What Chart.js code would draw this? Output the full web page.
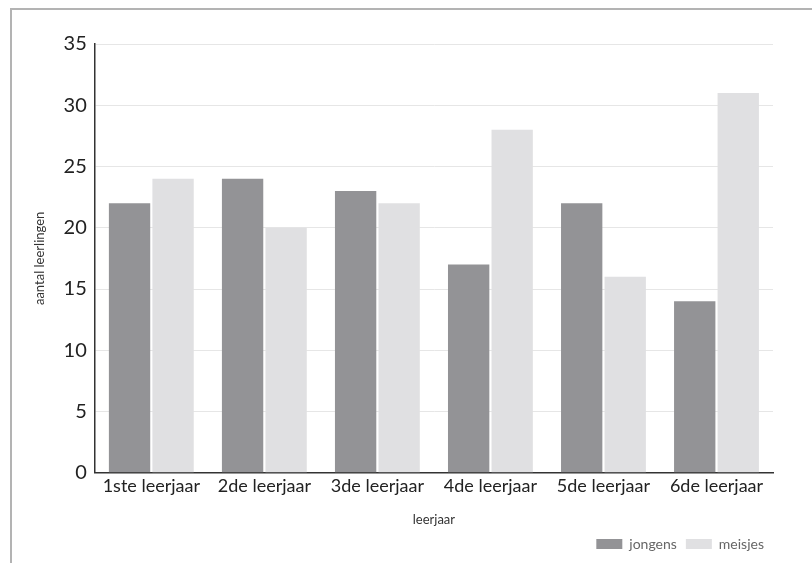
<!DOCTYPE html>
<html>
<head>
<meta charset="utf-8">
<script src="https://cdn.jsdelivr.net/npm/chart.js@4"></script>
<style>
  html, body { margin: 0; padding: 0; background: #fff; }
  #wrap { position: relative; width: 812px; height: 563px; }
  #frame { position: absolute; left: 10px; top: 8px; right: 0; bottom: 0;
           border-top: 2px solid #b3b3b3; border-left: 2px solid #b3b3b3; }
  canvas { position: absolute; left: 0; top: 0; }
</style>
</head>
<body>
<div id="wrap">
  <div id="frame"></div>
  <canvas id="chart" width="812" height="563"></canvas>
</div>
<script>
// data
const categories = ['1ste leerjaar', '2de leerjaar', '3de leerjaar', '4de leerjaar', '5de leerjaar', '6de leerjaar'];
const jongens = [22, 24, 23, 17, 22, 14];
const meisjes = [24, 20, 22, 28, 16, 31];

const ctx = document.getElementById('chart').getContext('2d');
new Chart(ctx, {
    type: 'bar',
    data: {
        labels: categories,
        datasets: [
            { label: 'jongens', data: jongens, backgroundColor: '#939396',
              categoryPercentage: 0.77, barPercentage: 0.95 },
            { label: 'meisjes', data: meisjes, backgroundColor: '#e0e0e2',
              categoryPercentage: 0.77, barPercentage: 0.95 }
        ]
    },
    options: {
        responsive: false,
        animation: false,
        layout: { padding: { top: 44, right: 39, left: 24, bottom: 2 } },
        plugins: {
            legend: {
                position: 'bottom',
                align: 'end',
                labels: {
                    boxWidth: 26, boxHeight: 10, padding: 9,
                    color: '#666', font: { family: 'Lato', size: 14 }
                }
            },
            tooltip: { enabled: false }
        },
        scales: {
            x: {
                grid: { display: false, drawTicks: false },
                border: { color: '#333', width: 1.5 },
                ticks: { color: '#222', padding: 3, font: { family: 'Lato', size: 18 } },
                title: { display: true, text: 'leerjaar', color: '#333',
                         padding: { top: 12, bottom: 0 }, font: { family: 'Lato', size: 13 } }
            },
            y: {
                min: 0, max: 35,
                ticks: { stepSize: 5, color: '#222', padding: 8, font: { family: 'Lato', size: 20 } },
                grid: { color: '#e6e6e6', drawTicks: false },
                border: { color: '#333', width: 1.5 },
                title: { display: true, text: 'aantal leerlingen', color: '#333',
                         padding: 8, font: { family: 'Lato', size: 13 } }
            }
        }
    }
});
</script>
</body>
</html>
